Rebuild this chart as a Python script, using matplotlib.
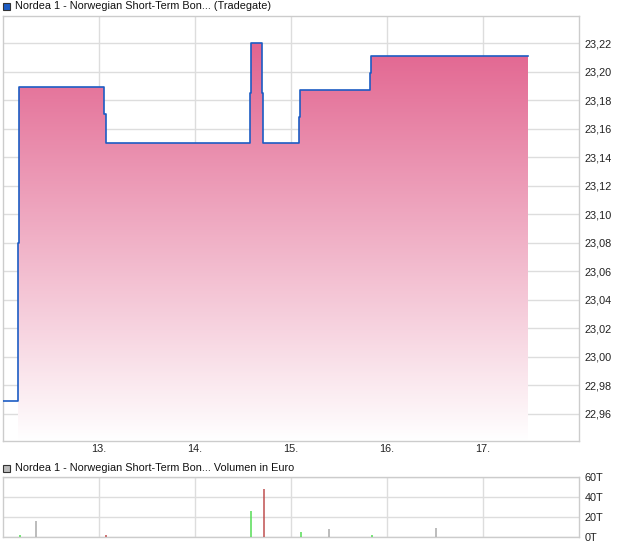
import numpy as np
import matplotlib
matplotlib.use("Agg")
import matplotlib.pyplot as plt
from matplotlib.colors import LinearSegmentedColormap
from matplotlib.patches import Rectangle, PathPatch
from matplotlib.path import Path

plt.rcParams['font.family'] = ['Liberation Sans', 'DejaVu Sans']

# ---- data ----
title_price = "Nordea 1 - Norwegian Short-Term Bon... (Tradegate)"
title_volume = "Nordea 1 - Norwegian Short-Term Bon... Volumen in Euro"

# price path (day of month, price) incl. the small visible intermediate notches
price_days = [12.00, 12.155, 12.17, 13.055, 13.07, 14.57, 14.58, 14.70, 14.71,
              15.086, 15.097, 15.826, 15.836, 17.47]
price_vals = [22.969, 23.08, 23.189, 23.17, 23.15, 23.185, 23.22, 23.185, 23.15,
              23.168, 23.187, 23.199, 23.211, 23.211]

y_ticks = [22.96, 22.98, 23.00, 23.02, 23.04, 23.06, 23.08, 23.10, 23.12,
           23.14, 23.16, 23.18, 23.20, 23.22]
x_ticks = [13, 14, 15, 16, 17]
x_labels = ["13.", "14.", "15.", "16.", "17."]

vol_days = [12.173, 12.347, 13.069, 14.583, 14.716, 15.104, 15.396, 15.844, 16.51]
vol_vals = [2.0, 16.0, 1.7, 26.0, 48.0, 5.0, 8.0, 1.7, 9.0]   # in thousand EUR
vol_kind = ["up", "flat", "down", "up", "down", "up", "flat", "up", "flat"]
vol_ticks = [0, 20, 40, 60]
vol_labels = ["0T", "20T", "40T", "60T"]

# ---- styling ----
W, H = 620, 546
fig = plt.figure(figsize=(W / 100, H / 100), dpi=100)
grid_c = "#dddddd"
spine_c = "#cccccc"
line_c = "#1c5cc4"
fs = 7.8

def frac(x0, y0, x1, y1):
    return [x0 / W, 1 - y1 / H, (x1 - x0) / W, (y1 - y0) / H]

ax = fig.add_axes(frac(3, 16, 579, 441))
ymin, ymax = 22.941, 23.239
xmin, xmax = 12.0, 18.0
ax.set_xlim(xmin, xmax)
ax.set_ylim(ymin, ymax)

# gradient fill under the step line (starts at the first rise)
xs = np.array(price_days)
ys = np.array(price_vals)
verts = [(xs[1], ymin)]
for i in range(1, len(xs)):
    if i > 1:
        verts.append((xs[i], ys[i - 1]))
    verts.append((xs[i], ys[i]))
verts.append((xs[-1], ymin))
verts.append((xs[1], ymin))
poly = Path(verts)
cmap = LinearSegmentedColormap.from_list("g", ["#ffffff", "#e05a88"])
grad = np.linspace(0, 1, 256).reshape(-1, 1)
im = ax.imshow(grad, cmap=cmap, aspect="auto", origin="lower",
               extent=[xmin, xmax, ymin, ymax], zorder=2)
patch = PathPatch(poly, facecolor="none", edgecolor="none")
ax.add_patch(patch)
im.set_clip_path(patch)

ax.plot(xs, ys, drawstyle="steps-post", color=line_c, lw=1.2, zorder=3)

ax.set_yticks(y_ticks)
ax.set_yticklabels([f"{v:.2f}".replace(".", ",") for v in y_ticks])
ax.set_xticks(x_ticks)
ax.set_xticklabels(x_labels)
ax.yaxis.tick_right()
ax.tick_params(axis="both", length=0, labelsize=fs, colors="#222222")
ax.tick_params(axis="y", pad=4)
ax.tick_params(axis="x", pad=2)
ax.grid(True, color=grid_c, lw=1)
ax.set_axisbelow(True)
for s in ax.spines.values():
    s.set_color(spine_c)
    s.set_linewidth(1)

# volume panel
axv = fig.add_axes(frac(3, 477, 579, 537))
axv.set_xlim(xmin, xmax)
axv.set_ylim(0, 60)
colors = {"up": "#55dd55", "down": "#c05050", "flat": "#aaaaaa"}
axv.vlines(vol_days, 0, vol_vals, colors=[colors[k] for k in vol_kind], lw=1.1, zorder=3)
axv.set_yticks(vol_ticks)
axv.set_yticklabels(vol_labels)
axv.set_xticks(x_ticks)
axv.set_xticklabels([])
axv.yaxis.tick_right()
axv.tick_params(axis="both", length=0, labelsize=fs, colors="#222222")
axv.tick_params(axis="y", pad=4)
axv.grid(True, color=grid_c, lw=1)
axv.set_axisbelow(True)
for s in axv.spines.values():
    s.set_color(spine_c)
    s.set_linewidth(1)

# titles with square icons
def icon_title(y_px, face, text):
    fig.patches.append(Rectangle((3 / W, 1 - (y_px + 4) / H), 7 / W, 7 / H,
                                 transform=fig.transFigure, facecolor=face,
                                 edgecolor="#333333", lw=0.8))
    fig.text(15 / W, 1 - y_px / H, text, fontsize=fs, va="center", ha="left",
             color="#111111")

icon_title(6, "#1c5cc4", title_price)
icon_title(468, "#bbbbbb", title_volume)

fig.savefig("out.png", dpi=100)
